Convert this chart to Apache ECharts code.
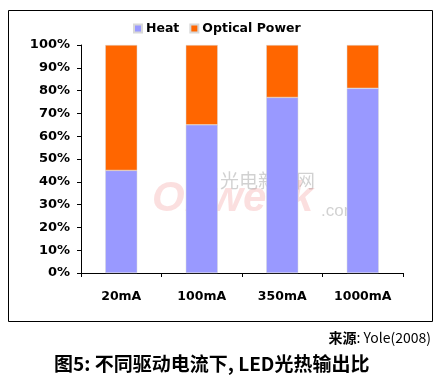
<!DOCTYPE html>
<html><head><meta charset="utf-8">
<script src="https://cdn.jsdelivr.net/npm/echarts@6/dist/echarts.min.js"></script>
<style>html,body{margin:0;padding:0;background:#fff}#c{width:448px;height:385px}</style>
</head><body><div id="c"></div>
<script>
const categories = ['20mA', '100mA', '350mA', '1000mA'];
const heat = [45, 65, 77, 81];
const optical = [55, 35, 23, 19];
const yTicks = [0, 10, 20, 30, 40, 50, 60, 70, 80, 90, 100];
const seriesNames = ['Heat', 'Optical Power'];
const sourceLabel = '来源';
const sourceText = ': Yole(2008)';
const captionText = '图5: 不同驱动电流下, LED光热输出比';

const chart = echarts.init(document.getElementById('c'), null, {renderer: 'canvas'});
const font = 'Verdana, "DejaVu Sans", sans-serif';
chart.setOption({
  animation: false,
  backgroundColor: '#fff',
  legend: {
    top: 17, left: 128, itemWidth: 8, itemHeight: 8, itemGap: 10,
    icon: 'rect',
    textStyle: {fontFamily: font, fontWeight: 'bold', fontSize: 12.5, color: '#000', padding: [0,0,0,-1]},
    data: seriesNames
  },
  grid: {left: 81, right: 45, top: 45, bottom: 112},
  xAxis: {
    type: 'category', data: categories,
    axisLine: {lineStyle: {color: '#000'}},
    axisTick: {show: true, length: 4, lineStyle: {color: '#000'}},
    axisLabel: {fontFamily: font, fontWeight: 'bold', fontSize: 12.5, color: '#000', margin: 17}
  },
  yAxis: {
    type: 'value', min: 0, max: 100, interval: 10,
    axisLine: {show: true, lineStyle: {color: '#000'}},
    axisTick: {show: true, length: 4, lineStyle: {color: '#000'}},
    splitLine: {show: false},
    axisLabel: {fontFamily: font, fontWeight: 'bold', fontSize: 13, color: '#000', margin: 11,
      formatter: v => yTicks.includes(v) ? v + '%' : ''}
  },
  series: [
    {name: seriesNames[0], type: 'bar', stack: 's', data: heat, barWidth: 32, z: 5,
     itemStyle: {color: '#9999FF', borderColor: '#d8d8d8', borderWidth: 0.5}},
    {name: seriesNames[1], type: 'bar', stack: 's', data: optical, barWidth: 32, z: 5,
     itemStyle: {color: '#FF6600', borderColor: '#d8d8d8', borderWidth: 0.5}}
  ],
  graphic: [
    {type: 'rect', shape: {x: 8.5, y: 10.5, width: 424, height: 311}, style: {fill: 'none', stroke: '#000', lineWidth: 1}, z: 100},
    {type: 'text', left: 220, top: 171, style: {text: '光电新闻网', fill: 'rgba(140,140,140,0.4)', font: '19px "Noto Sans CJK SC"'}, z: 0},
    {type: 'text', left: 152, top: 178, style: {text: 'OFweek', fill: 'rgba(235,110,110,0.22)', font: 'italic bold 42px Arial, "Liberation Sans"'}, z: 0},
    {type: 'text', left: 321, top: 203, style: {text: '.com', fill: 'rgba(140,140,140,0.4)', font: '17px Arial, "Liberation Sans"'}, z: 0},
    {type: 'text', right: 17, top: 331, style: {
      text: '{b|' + sourceLabel + '}' + sourceText,
      fill: '#000', font: '14px "Noto Sans CJK SC", sans-serif',
      rich: {b: {fontWeight: 'bold', fontSize: 14, fontFamily: '"Noto Sans CJK SC"', fill: '#000'}}}},
    {type: 'text', left: 54, top: 354, style: {text: captionText, fill: '#000', font: 'bold 19px "Noto Sans CJK SC", sans-serif'}}
  ]
});
</script></body></html>
